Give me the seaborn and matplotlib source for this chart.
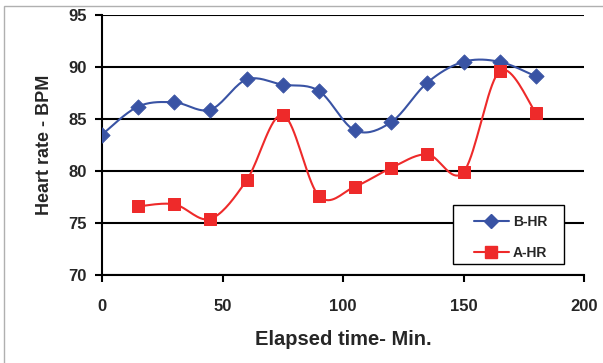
import numpy as np
import seaborn as sns
import matplotlib.pyplot as plt
from matplotlib.lines import Line2D
from matplotlib.patches import Rectangle

# data
time_b = [0, 15, 30, 45, 60, 75, 90, 105, 120, 135, 150, 165, 180]
b_hr = [83.5, 86.2, 86.6, 85.9, 88.8, 88.3, 87.7, 83.9, 84.7, 88.5, 90.5, 90.5, 89.1]
time_a = [15, 30, 45, 60, 75, 90, 105, 120, 135, 150, 165, 180]
a_hr = [76.6, 76.8, 75.4, 79.1, 85.4, 77.6, 78.5, 80.3, 81.6, 79.9, 89.6, 85.6]
x_ticks = [0, 50, 100, 150, 200]
y_ticks = [70, 75, 80, 85, 90, 95]

blue = '#3953a4'
red = '#ee2a2a'


def smooth(xs, ys, n=20):
    # Excel-style smoothed line (Catmull-Rom through the points)
    x = np.asarray(xs, float)
    y = np.asarray(ys, float)
    px = np.concatenate([[x[0]], x, [x[-1]]])
    py = np.concatenate([[y[0]], y, [y[-1]]])
    ox, oy = [], []
    t = np.linspace(0, 1, n)
    for i in range(1, len(px) - 2):
        for p, out in ((px, ox), (py, oy)):
            p0, p1, p2, p3 = p[i - 1], p[i], p[i + 1], p[i + 2]
            c1 = p1 + (p2 - p0) / 6
            c2 = p2 - (p3 - p1) / 6
            out.extend((1 - t) ** 3 * p1 + 3 * (1 - t) ** 2 * t * c1
                       + 3 * (1 - t) * t ** 2 * c2 + t ** 3 * p2)
    return ox, oy


sns.set_style('white')
plt.rcParams['font.family'] = ['Liberation Sans', 'DejaVu Sans']
plt.rcParams['font.weight'] = 'bold'

fig = plt.figure(figsize=(6.03, 3.63), dpi=100)
ax = fig.add_axes([102 / 603, 1 - 275 / 363, 482 / 603, 260 / 363])

# light outer frame of the chart object
fig.patches.append(Rectangle((4 / 603, -0.1), 1.2, 1 - 6 / 363 + 0.1, transform=fig.transFigure,
                             fill=False, edgecolor='#b0b0b0', linewidth=1))

bx, by = smooth(time_b, b_hr)
ax_, ay_ = smooth(time_a, a_hr)
sns.lineplot(x=bx, y=by, ax=ax, color=blue, linewidth=1.5, sort=False, estimator=None)
sns.lineplot(x=ax_, y=ay_, ax=ax, color=red, linewidth=1.5, sort=False, estimator=None)
sns.scatterplot(x=time_b, y=b_hr, ax=ax, marker='D', s=60, color=blue, edgecolor=blue, zorder=3)
sns.scatterplot(x=time_a, y=a_hr, ax=ax, marker='s', s=80, color=red, edgecolor=red, zorder=3)

ax.set_xlim(0, 200)
ax.set_ylim(70, 95)
ax.set_xticks(x_ticks)
ax.set_yticks(y_ticks)
ax.grid(axis='y', color='black', linewidth=1.5)
ax.set_axisbelow(True)
for s in ['top', 'right']:
    ax.spines[s].set_visible(False)
for s in ['left', 'bottom']:
    ax.spines[s].set_color('black')
    ax.spines[s].set_linewidth(1.5)
ax.tick_params(axis='both', direction='out', length=5, width=1.5, color='black',
               labelsize=12, left=True, bottom=True)
ax.tick_params(axis='x', pad=12)
ax.tick_params(axis='y', pad=6)
for lab in ax.get_xticklabels() + ax.get_yticklabels():
    lab.set_fontweight('bold')
ax.set_xlabel('Elapsed time- Min.', fontsize=14.5, fontweight='bold', labelpad=12)
ax.set_ylabel('Heart rate - BPM', fontsize=13, fontweight='bold', labelpad=11)

# legend: frame drawn separately to get Excel's wide padding
ax.add_patch(Rectangle((0.728, 0.042), 0.231, 0.227, transform=ax.transAxes,
                       facecolor='white', edgecolor='black', linewidth=1, zorder=4))
handles = [Line2D([], [], color=blue, marker='D', markersize=7, linewidth=1.5),
           Line2D([], [], color=red, marker='s', markersize=8, linewidth=1.5)]
leg = ax.legend(handles, ['B-HR', 'A-HR'], loc='upper left', bbox_to_anchor=(0.772, 0.232),
                frameon=False, prop={'weight': 'bold', 'size': 10}, labelspacing=1.25,
                borderpad=0, borderaxespad=0, handlelength=2.5, handletextpad=0.3)
leg.set_zorder(5)

fig.savefig('out.png', dpi=100)
